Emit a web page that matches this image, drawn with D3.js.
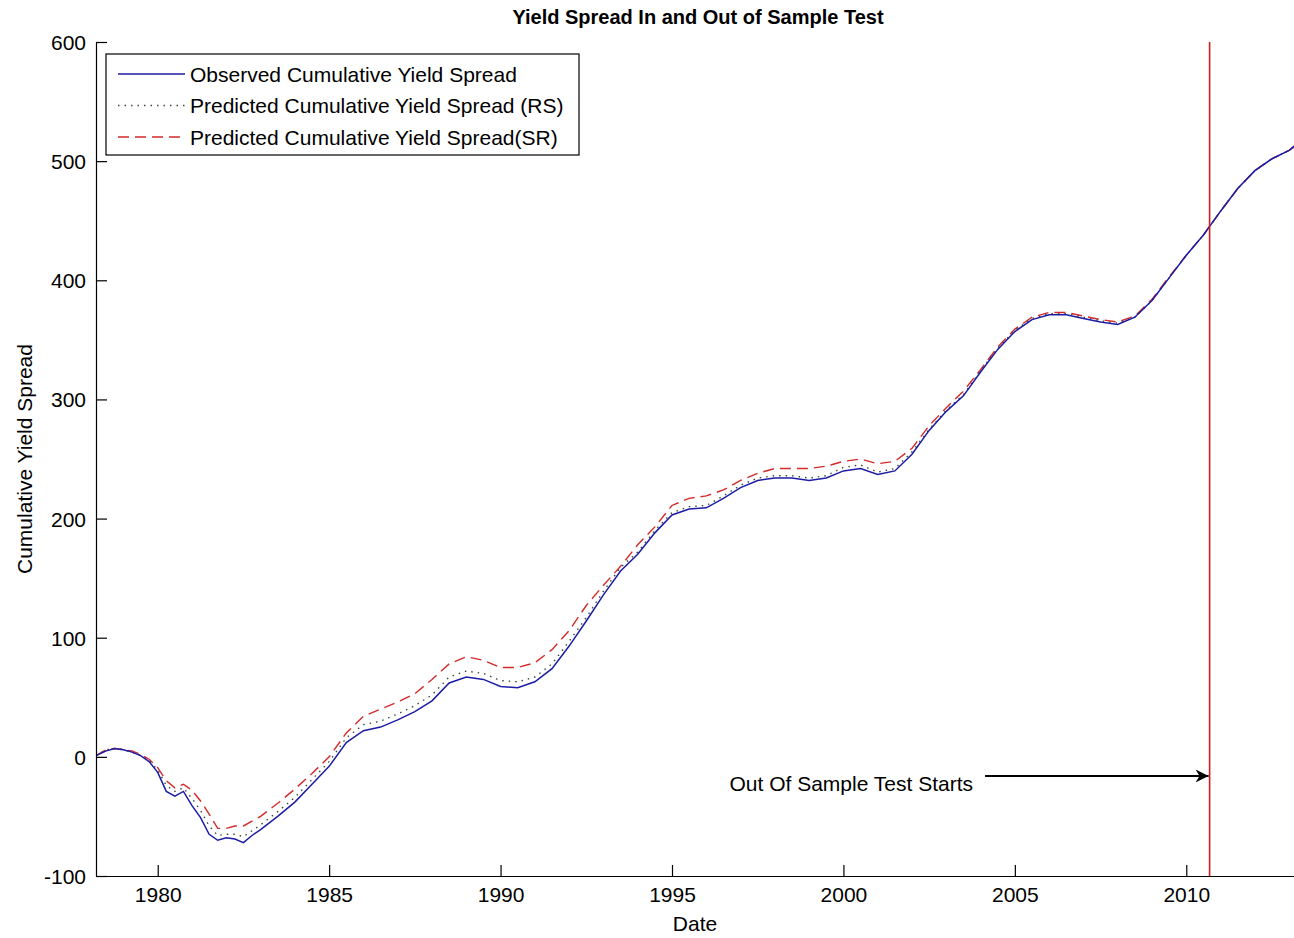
<head><meta charset="utf-8"></head>
<body style="margin:0; background:#fff;">
    <div id='chart'></div>
    <script src='https://cdn.jsdelivr.net/npm/d3@7'></script>
    <script>
        var height = 938,
            width = 1294;

        var dates = [1978.2, 1978.5, 1978.75, 1979.0, 1979.25, 1979.5, 1979.75, 1980.0, 1980.25, 1980.5, 1980.75,
            1981.0, 1981.25, 1981.5, 1981.75, 1982.0, 1982.25, 1982.5, 1982.75, 1983.0, 1983.5, 1984.0, 1984.5,
            1985.0, 1985.5, 1986.0, 1986.5, 1987.0, 1987.5, 1988.0, 1988.5, 1989.0, 1989.5, 1990.0, 1990.5,
            1991.0, 1991.5, 1992.0, 1992.5, 1993.0, 1993.5, 1994.0, 1994.5, 1995.0, 1995.5, 1996.0, 1996.5,
            1997.0, 1997.5, 1998.0, 1998.5, 1999.0, 1999.5, 2000.0, 2000.5, 2001.0, 2001.5, 2002.0, 2002.5,
            2003.0, 2003.5, 2004.0, 2004.5, 2005.0, 2005.5, 2006.0, 2006.5, 2007.0, 2007.5, 2008.0, 2008.5,
            2009.0, 2009.5, 2010.0, 2010.5, 2011.0, 2011.5, 2012.0, 2012.5, 2013.0, 2013.2];

        var observed = [1, 5, 7, 6, 4, 1, -4, -13, -29, -33, -29,
            -41, -51, -65, -70, -68, -69, -72, -66, -61, -50, -38, -23,
            -8, 12, 22, 25, 31, 38, 47, 62, 67, 65, 59, 58,
            63, 74, 93, 114, 136, 156, 170, 188, 203, 208, 209, 217,
            226, 232, 234, 234, 232, 234, 240, 242, 237, 240, 254, 274,
            290, 303, 323, 342, 357, 367, 371, 371, 368, 365, 363, 369,
            383, 402, 421, 438, 458, 477, 492, 502, 509, 514];

        var predictedRS = [1, 6, 7, 6, 4, 1, -3, -11, -24, -29, -26,
            -35, -45, -58, -66, -65, -65, -67, -62, -57, -46, -34, -19,
            -4, 16, 27, 30, 36, 43, 52, 67, 72, 70, 64, 63,
            67, 78, 97, 117, 139, 159, 172, 190, 205, 210, 211, 219,
            228, 234, 236, 236, 234, 236, 243, 245, 239, 242, 256, 275,
            291, 304, 324, 343, 358, 368, 372, 372, 369, 366, 364, 369,
            383, 402, 421, 438, 458, 477, 492, 502, 509, 514];

        var predictedSR = [1, 6, 7, 6, 5, 2, -2, -9, -20, -26, -23,
            -28, -37, -48, -60, -60, -58, -58, -54, -50, -39, -27, -14,
            0, 20, 34, 40, 46, 53, 65, 78, 84, 81, 75, 75,
            79, 90, 106, 127, 144, 160, 178, 193, 211, 217, 219, 224,
            232, 238, 242, 242, 242, 244, 248, 250, 246, 248, 259, 278,
            293, 307, 325, 344, 359, 369, 373, 373, 370, 367, 365, 370,
            384, 403, 421, 438, 458, 477, 492, 502, 509, 513];

        var xTicks = [1980, 1985, 1990, 1995, 2000, 2005, 2010];
        var yTicks = [-100, 0, 100, 200, 300, 400, 500, 600];

        var legendNames = ['Observed Cumulative Yield Spread',
            'Predicted Cumulative Yield Spread (RS)',
            'Predicted Cumulative Yield Spread(SR)'];

        var outOfSampleStart = 2010.68;
        var arrowFrom = [2004.13, -16];
        var arrowLabel = 'Out Of Sample Test Starts';

        var font = "'Liberation Sans', Arial, Helvetica, sans-serif";

        var svg = d3.select('#chart')
            .append('svg')
            .attr('height', height)
            .attr('width', width)
            .style('display', 'block')
            .style('font-family', font);

        var x = d3.scaleLinear()
            .domain([1978.2, 2013.2])
            .range([96, 1296]);

        var y = d3.scaleLinear()
            .domain([-100, 600])
            .range([876, 42]);

        var series = [
            {name: legendNames[0], values: observed, color: '#1c1ca6', dash: null, w: 1.5},
            {name: legendNames[1], values: predictedRS, color: '#3a4a3a', dash: '1.5,5', w: 1.4},
            {name: legendNames[2], values: predictedSR, color: '#d42a2a', dash: '11,6', w: 1.4}
        ];

        var line = d3.line()
            .x(function(d){ return x(d[0]); })
            .y(function(d){ return y(d[1]); });

        svg.append('clipPath').attr('id', 'plotclip')
            .append('rect').attr('x', 96).attr('y', 0).attr('width', 1200).attr('height', 877);

        var plot = svg.append('g').attr('clip-path', 'url(#plotclip)');

        // draw the predicted ones first so the observed line sits on top
        plot.selectAll('path.series')
            .data(series.slice().reverse())
            .enter().append('path')
            .attr('class', 'series')
            .attr('d', function(d){ return line(dates.map(function(t, i){ return [t, d.values[i]]; })); })
            .attr('fill', 'none')
            .attr('stroke', function(d){ return d.color; })
            .attr('stroke-width', function(d){ return d.w; })
            .attr('stroke-dasharray', function(d){ return d.dash; });

        // out of sample marker
        svg.append('line')
            .attr('x1', x(outOfSampleStart)).attr('x2', x(outOfSampleStart))
            .attr('y1', y(600)).attr('y2', y(-100))
            .attr('stroke', '#cc1f1f')
            .attr('stroke-width', 1.6);

        // axes (MATLAB style, ticks pointing in)
        var xAxis = d3.axisBottom(x)
            .tickValues(xTicks)
            .tickFormat(function(d){ return String(d); })
            .tickSizeInner(-11)
            .tickSizeOuter(0)
            .tickPadding(11);

        var yAxis = d3.axisLeft(y)
            .tickValues(yTicks)
            .tickFormat(function(d){ return String(d); })
            .tickSizeInner(-11)
            .tickSizeOuter(0)
            .tickPadding(10);

        var gx = svg.append('g')
            .attr('transform', 'translate(0,' + y(-100) + ')')
            .call(xAxis);

        var gy = svg.append('g')
            .attr('transform', 'translate(' + x(1978.2) + ',0)')
            .call(yAxis);

        [gx, gy].forEach(function(g){
            g.select('.domain').attr('stroke', '#000').attr('stroke-width', 1.2);
            g.selectAll('.tick line').attr('stroke', '#000').attr('stroke-width', 1.2);
            g.selectAll('.tick text')
                .attr('fill', '#000')
                .style('font-family', font)
                .style('font-size', '21px');
        });

        gx.selectAll('.tick text').attr('dy', '0.71em');
        gy.selectAll('.tick text').attr('dy', '0.36em');

        // title and axis labels
        svg.append('text')
            .attr('x', 698).attr('y', 24)
            .attr('text-anchor', 'middle')
            .style('font-size', '20px')
            .style('font-weight', 'bold')
            .text('Yield Spread In and Out of Sample Test');

        svg.append('text')
            .attr('x', 695).attr('y', 931)
            .attr('text-anchor', 'middle')
            .style('font-size', '21px')
            .text('Date');

        svg.append('text')
            .attr('transform', 'translate(32,' + ((y(600) + y(-100)) / 2) + ') rotate(-90)')
            .attr('text-anchor', 'middle')
            .style('font-size', '21px')
            .text('Cumulative Yield Spread');

        // annotation arrow
        svg.append('defs').append('marker')
            .attr('id', 'head')
            .attr('viewBox', '0 0 10 10')
            .attr('refX', 10).attr('refY', 5)
            .attr('markerWidth', 16).attr('markerHeight', 13)
            .attr('markerUnits', 'userSpaceOnUse')
            .attr('orient', 'auto')
            .append('path')
            .attr('d', 'M0,0 L10,5 L0,10 L3,5 Z')
            .attr('fill', '#000');

        svg.append('line')
            .attr('x1', x(arrowFrom[0])).attr('y1', y(arrowFrom[1]))
            .attr('x2', x(outOfSampleStart) - 1).attr('y2', y(arrowFrom[1]))
            .attr('stroke', '#000')
            .attr('stroke-width', 2)
            .attr('marker-end', 'url(#head)');

        svg.append('text')
            .attr('x', x(arrowFrom[0]) - 12).attr('y', y(arrowFrom[1]) + 15)
            .attr('text-anchor', 'end')
            .style('font-size', '21px')
            .text(arrowLabel);

        // legend
        var legend = svg.append('g').attr('transform', 'translate(106,54)');

        legend.append('rect')
            .attr('width', 473).attr('height', 101)
            .attr('fill', '#fff')
            .attr('stroke', '#000')
            .attr('stroke-width', 1.2);

        var rows = legend.selectAll('g.row')
            .data(series)
            .enter().append('g')
            .attr('class', 'row')
            .attr('transform', function(d, i){ return 'translate(0,' + (20 + i * 31.5) + ')'; });

        rows.append('line')
            .attr('x1', 12).attr('x2', 79)
            .attr('stroke', function(d){ return d.color; })
            .attr('stroke-width', function(d){ return d.w; })
            .attr('stroke-dasharray', function(d){ return d.dash; });

        rows.append('text')
            .attr('x', 84).attr('dy', '0.36em')
            .style('font-size', '21px')
            .text(function(d){ return d.name; });
    </script>
</body>
